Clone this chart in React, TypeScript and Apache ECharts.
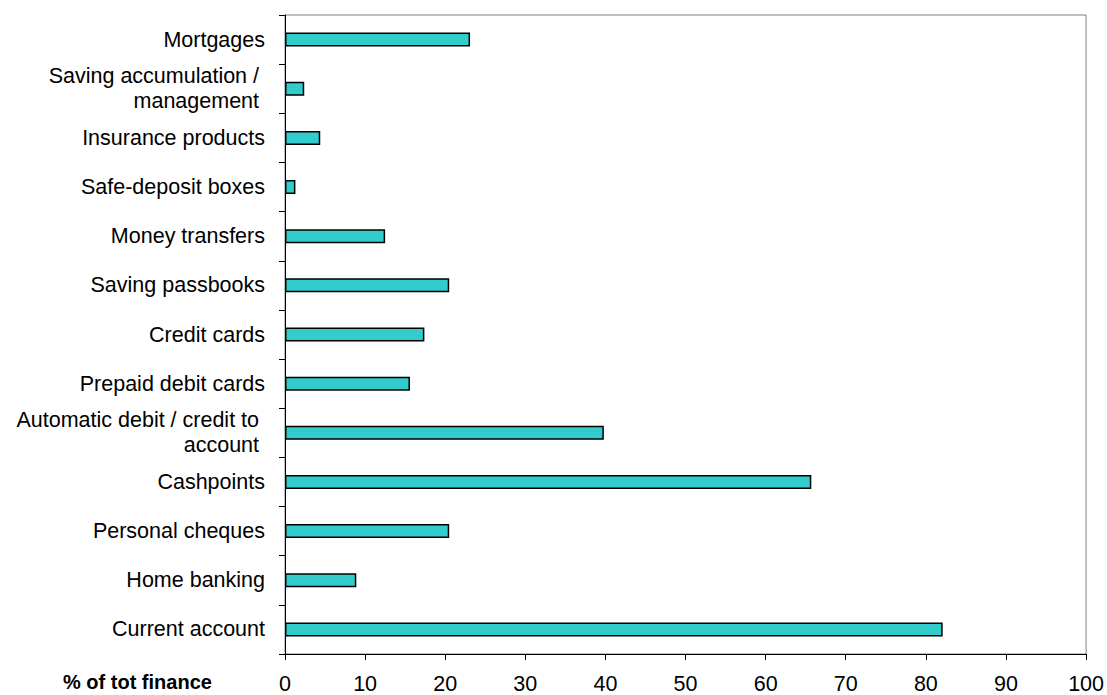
import React, { useEffect, useRef } from "react";
import * as echarts from "echarts";

const categories = [
  "Current account",
  "Home banking",
  "Personal cheques",
  "Cashpoints",
  "Automatic debit / credit to \naccount ",
  "Prepaid debit cards",
  "Credit cards",
  "Saving passbooks",
  "Money transfers",
  "Safe-deposit boxes",
  "Insurance products",
  "Saving accumulation / \nmanagement ",
  "Mortgages",
];
const values = [82.1, 8.9, 20.5, 65.7, 39.8, 15.6, 17.4, 20.5, 12.5, 1.3, 4.4, 2.4, 23.1];
const xTicks = { min: 0, max: 100, interval: 10 };
const axisTitle = "% of tot finance";

export default function App() {
  const ref = useRef<HTMLDivElement>(null);
  useEffect(() => {
    if (!ref.current) return;
    const chart = echarts.init(ref.current, null, { renderer: "svg" });
    const font = "'Liberation Sans', Arial, sans-serif";
    chart.setOption({
      animation: false,
      backgroundColor: "#ffffff",
      grid: {
        left: 285,
        right: 20,
        top: 15,
        bottom: 39,
        show: true,
        borderColor: "#808080",
        borderWidth: 1,
      },
      xAxis: {
        type: "value",
        min: xTicks.min,
        max: xTicks.max,
        interval: xTicks.interval,
        splitLine: { show: false },
        axisLine: { show: true, lineStyle: { color: "#000", width: 1 } },
        axisTick: { show: true, length: 6, lineStyle: { color: "#000" } },
        axisLabel: {
          color: "#000",
          fontSize: 21.5,
          fontFamily: font,
          margin: 19,
        },
      },
      yAxis: {
        type: "category",
        data: categories.map((c) =>
          c.includes("\n")
            ? { value: c, textStyle: { padding: [10, 0, 0, 0] } }
            : c
        ),
        axisLine: { show: true, lineStyle: { color: "#000", width: 1 } },
        axisTick: { show: true, length: 6, lineStyle: { color: "#000" } },
        axisLabel: {
          color: "#000",
          fontSize: 21.5,
          fontFamily: font,
          margin: 20,
          lineHeight: 25,
        },
      },
      graphic: [
        {
          type: "text",
          left: 63,
          top: 672,
          style: {
            text: axisTitle,
            fontSize: 20,
            fontWeight: "bold",
            fontFamily: font,
            fill: "#000",
          },
        },
      ],
      series: [
        {
          type: "bar",
          data: values,
          barWidth: 14,
          itemStyle: {
            color: "#33CCCC",
            borderColor: "#000",
            borderWidth: 1.5,
          },
        },
      ],
    });
    return () => chart.dispose();
  }, []);
  return <div ref={ref} style={{ width: 1107, height: 695, position: "absolute", left: 0, top: 0 }} />;
}
